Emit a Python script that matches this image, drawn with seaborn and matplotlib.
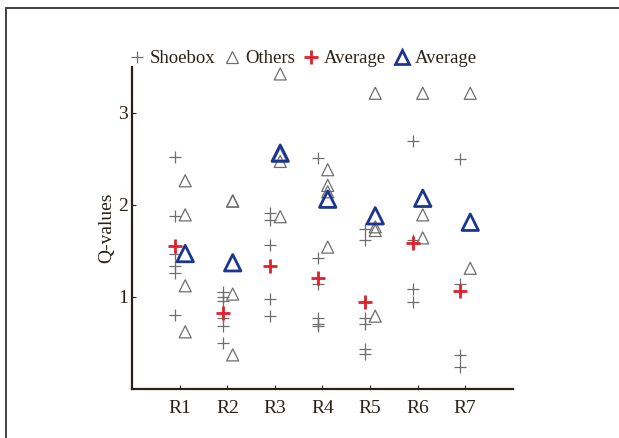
import matplotlib
matplotlib.use("Agg")
import matplotlib.pyplot as plt
from matplotlib.lines import Line2D
from matplotlib.patches import Rectangle
import seaborn as sns
import pandas as pd

# ---- data ----
categories = ["R1", "R2", "R3", "R4", "R5", "R6", "R7"]

shoebox = {
    "R1": [2.52, 1.88, 1.47, 1.34, 1.26, 0.80],
    "R2": [1.05, 1.00, 0.95, 0.77, 0.68, 0.50],
    "R3": [1.91, 1.83, 1.56, 0.98, 0.79],
    "R4": [2.51, 1.42, 1.14, 0.77, 0.71, 0.68],
    "R5": [1.74, 1.62, 0.77, 0.70, 0.43, 0.38],
    "R6": [2.69, 1.62, 1.09, 0.94],
    "R7": [2.50, 1.14, 0.37, 0.24],
}
others = {
    "R1": [2.26, 1.89, 1.12, 0.62],
    "R2": [2.04, 2.04, 1.03, 0.37],
    "R3": [3.42, 2.55, 2.47, 1.87],
    "R4": [2.38, 2.21, 2.14, 1.54],
    "R5": [3.21, 1.76, 1.72, 0.79],
    "R6": [3.21, 1.89, 1.64],
    "R7": [3.21, 1.31],
}
shoebox_avg = [1.55, 0.82, 1.33, 1.20, 0.94, 1.58, 1.06]
others_avg = [1.47, 1.37, 2.56, 2.06, 1.88, 2.07, 1.81]

legend_labels = ["Shoebox", "Others", "Average", "Average"]

# ---- build tidy tables ----
left_off, right_off = -0.10, 0.11
rows_s, rows_o = [], []
for i, c in enumerate(categories):
    for v in shoebox[c]:
        rows_s.append({"x": i + 1 + left_off, "y": v})
    for v in others[c]:
        rows_o.append({"x": i + 1 + right_off, "y": v})
df_s = pd.DataFrame(rows_s)
df_o = pd.DataFrame(rows_o)
df_sa = pd.DataFrame({"x": [i + 1 + left_off for i in range(len(categories))], "y": shoebox_avg})
df_oa = pd.DataFrame({"x": [i + 1 + right_off for i in range(len(categories))], "y": others_avg})

sns.set_theme(style="ticks")
plt.rcParams["font.family"] = ["Liberation Serif", "DejaVu Serif"]

gray = "#6e6e6e"
red = "#e0202a"
blue = "#1b3590"
ink = "#2a2118"

fig = plt.figure(figsize=(6.19, 4.38), dpi=100)
ax = fig.add_axes([0.214, 0.112, 0.614, 0.736])

sns.scatterplot(data=df_s, x="x", y="y", marker="+", s=75, color=gray,
                linewidth=0.9, ax=ax, zorder=3)
sns.scatterplot(data=df_o, x="x", y="y", marker="^", s=75, facecolor="none",
                edgecolor=gray, linewidth=0.9, ax=ax, zorder=3)
sns.scatterplot(data=df_sa, x="x", y="y", marker="+", s=115, color=red,
                linewidth=2.0, ax=ax, zorder=4)
sns.scatterplot(data=df_oa, x="x", y="y", marker="^", s=140, facecolor="none",
                edgecolor=blue, linewidth=2.0, ax=ax, zorder=5)

ax.set_xlim(0, 8)
ax.set_ylim(0, 3.5)
ax.set_xticks(range(1, len(categories) + 1))
ax.set_xticklabels(categories)
ax.set_yticks([1, 2, 3])
ax.set_yticklabels(["1", "2", "3"])
ax.set_xlabel("")
ax.set_ylabel("Q-values", fontsize=14, labelpad=2, color=ink)
ax.tick_params(direction="in", length=3, width=0.8, labelsize=14, colors=ink)
ax.tick_params(axis="x", pad=8)
for sp in ["top", "right"]:
    ax.spines[sp].set_visible(False)
for sp in ["left", "bottom"]:
    ax.spines[sp].set_color(ink)
    ax.spines[sp].set_linewidth(1.6)

handles = [
    Line2D([], [], linestyle="none", marker="+", markersize=8, color=gray, markeredgewidth=0.9),
    Line2D([], [], linestyle="none", marker="^", markersize=8, markerfacecolor="none",
           markeredgecolor=gray, markeredgewidth=0.9),
    Line2D([], [], linestyle="none", marker="+", markersize=10, color=red, markeredgewidth=2.0),
    Line2D([], [], linestyle="none", marker="^", markersize=10, markerfacecolor="none",
           markeredgecolor=blue, markeredgewidth=2.0),
]
fig.legend(handles, legend_labels, loc="center left", bbox_to_anchor=(0.194, 0.866),
           ncol=4, frameon=False, fontsize=13.5, handlelength=0.8, handletextpad=0.3,
           columnspacing=0.45, borderpad=0.0, labelcolor=ink)

# outer frame (cropped screenshot border)
fig.add_artist(Rectangle((6 / 619, -0.1), 1.2, (438 - 8) / 438 + 0.1,
                         transform=fig.transFigure, fill=False,
                         edgecolor="#333333", linewidth=1.3))

fig.savefig("out.png", dpi=100)
